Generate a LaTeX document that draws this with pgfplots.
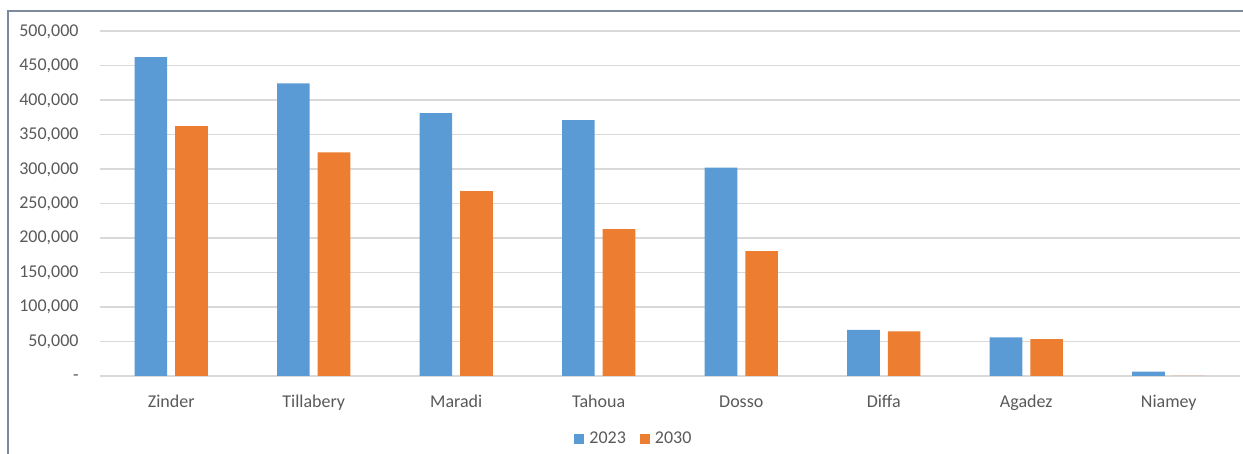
\documentclass[border=0pt]{standalone}
\usepackage{fontspec}
\setmainfont{Carlito}
\usepackage{pgfplots}
\pgfplotsset{compat=1.18}
\definecolor{cblue}{HTML}{5B9BD5}
\definecolor{corange}{HTML}{ED7D31}
\definecolor{cgrid}{HTML}{D9D9D9}
\definecolor{ctext}{HTML}{595959}
\definecolor{cframe}{RGB}{125,138,158}
\begin{document}
\begin{tikzpicture}
\useasboundingbox (0,0) rectangle (621.5pt,227pt);
\draw[cframe, line width=0.75pt] (4pt,0) -- (4pt,221.5pt) -- (621.5pt,221.5pt);
\begin{axis}[
  at={(50pt,39pt)}, anchor=south west,
  scale only axis, width=570pt, height=172.5pt,
  ybar=4pt, bar width=16.3pt,
  xmin=-0.5, xmax=7.5, ymin=0, ymax=500000,
  scaled y ticks=false,
  axis line style={draw=none},
  major tick length=0pt,
  xtick={0,1,2,3,4,5,6,7},
  xticklabels={Zinder,Tillabery,Maradi,Tahoua,Dosso,Diffa,Agadez,Niamey},
  ytick={0,50000,100000,150000,200000,250000,300000,350000,400000,450000,500000},
  yticklabels={{-\hspace{5pt}},{50,000},{100,000},{150,000},{200,000},{250,000},{300,000},{350,000},{400,000},{450,000},{500,000}},
  ymajorgrids, grid style={cgrid, line width=0.75pt},
  tick label style={font=\fontsize{9}{10}\selectfont, text=ctext, inner sep=0pt},
  yticklabel style={anchor=base east, xshift=-10.5pt, yshift=-2.5pt},
  xticklabel style={anchor=base, yshift=-15.85pt},
  /pgf/number format/assume math mode=true,
  legend columns=2,
  legend style={at={(0.4675,-0.1826)}, anchor=center, draw=none, fill=none, inner sep=0pt,
    nodes={inner sep=0pt, font=\fontsize{9}{10}\selectfont, text=ctext},
    /tikz/column sep=2.5pt,
    /tikz/every even column/.append style={column sep=7pt}},
  legend image code/.code={\fill[#1] (0pt,-2.5pt) rectangle (5pt,2.5pt);},
]
\addplot[fill=cblue, draw=none] coordinates {(0,462000) (1,424000) (2,381000) (3,371000) (4,302000) (5,66700) (6,56000) (7,6200)};
\addplot[fill=corange, draw=none] coordinates {(0,362000) (1,324000) (2,268000) (3,213000) (4,181000) (5,64800) (6,53600) (7,0)};
\legend{2023,2030}
\end{axis}
\end{tikzpicture}
\end{document}
